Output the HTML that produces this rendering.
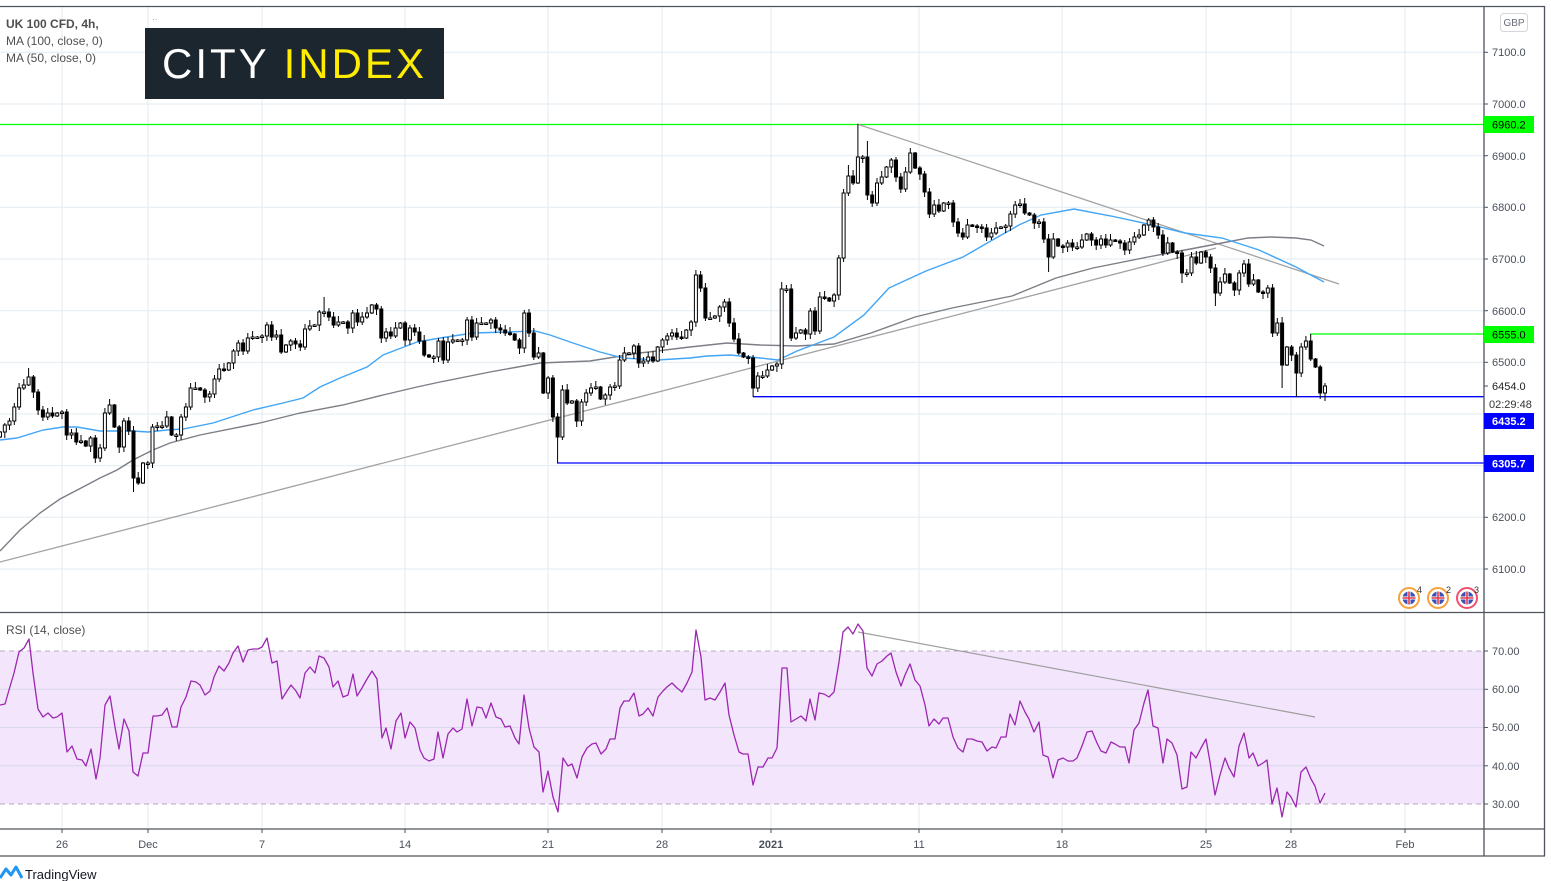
<!DOCTYPE html>
<html>
<head>
<meta charset="utf-8">
<style>
html,body{margin:0;padding:0;background:#fff;}
body{width:1551px;height:881px;overflow:hidden;position:relative;font-family:"Liberation Sans",sans-serif;}
svg{position:absolute;left:0;top:0;}
text{font-family:"Liberation Sans",sans-serif;}
</style>
</head>
<body>
<svg width="1551" height="881" viewBox="0 0 1551 881" xmlns="http://www.w3.org/2000/svg">
<defs>
<clipPath id="pc"><rect x="0" y="7" width="1484" height="605"/></clipPath>
<clipPath id="rc"><rect x="0" y="613" width="1484" height="216"/></clipPath>
</defs>

<!-- vertical grid -->
<g stroke="#e1ecf2" stroke-width="1">
<line x1="62" y1="7" x2="62" y2="829"/>
<line x1="148" y1="7" x2="148" y2="829"/>
<line x1="262" y1="7" x2="262" y2="829"/>
<line x1="405" y1="7" x2="405" y2="829"/>
<line x1="548" y1="7" x2="548" y2="829"/>
<line x1="662" y1="7" x2="662" y2="829"/>
<line x1="771" y1="7" x2="771" y2="829"/>
<line x1="919" y1="7" x2="919" y2="829"/>
<line x1="1062" y1="7" x2="1062" y2="829"/>
<line x1="1206" y1="7" x2="1206" y2="829"/>
<line x1="1291" y1="7" x2="1291" y2="829"/>
<line x1="1405" y1="7" x2="1405" y2="829"/>
</g>
<!-- horizontal price grid -->
<g stroke="#e1ecf2" stroke-width="1">
<line x1="0" y1="52.3" x2="1484" y2="52.3"/>
<line x1="0" y1="104" x2="1484" y2="104"/>
<line x1="0" y1="155.7" x2="1484" y2="155.7"/>
<line x1="0" y1="207.3" x2="1484" y2="207.3"/>
<line x1="0" y1="259" x2="1484" y2="259"/>
<line x1="0" y1="310.7" x2="1484" y2="310.7"/>
<line x1="0" y1="362.3" x2="1484" y2="362.3"/>
<line x1="0" y1="414" x2="1484" y2="414"/>
<line x1="0" y1="465.7" x2="1484" y2="465.7"/>
<line x1="0" y1="517.3" x2="1484" y2="517.3"/>
<line x1="0" y1="569" x2="1484" y2="569"/>
</g>

<!-- RSI band -->
<rect x="0" y="651" width="1484" height="153" fill="#f3e6fc"/>
<g stroke="#d9d6ee" stroke-width="1">
<line x1="0" y1="689.3" x2="1484" y2="689.3"/>
<line x1="0" y1="727.5" x2="1484" y2="727.5"/>
<line x1="0" y1="765.8" x2="1484" y2="765.8"/>
</g>
<g stroke="#b7a9bd" stroke-width="1" stroke-dasharray="5,4">
<line x1="0" y1="651" x2="1484" y2="651"/>
<line x1="0" y1="804" x2="1484" y2="804"/>
</g>

<!-- price pane content -->
<g clip-path="url(#pc)">
<!-- level lines -->
<line x1="0" y1="124.5" x2="1484" y2="124.5" stroke="#00ff00" stroke-width="1.3"/>
<line x1="1310" y1="334" x2="1484" y2="334" stroke="#00ff00" stroke-width="1.3"/>
<line x1="753" y1="396.7" x2="1484" y2="396.7" stroke="#0000ff" stroke-width="1.3"/>
<line x1="557" y1="463" x2="1484" y2="463" stroke="#0000ff" stroke-width="1.3"/>
<!-- trend lines -->
<line x1="0" y1="562" x2="1216" y2="248" stroke="#a3a3a3" stroke-width="1.3"/>
<line x1="857" y1="124" x2="1339" y2="284" stroke="#a3a3a3" stroke-width="1.3"/>
<!-- MA100 -->
<polyline fill="none" stroke="#7d7d86" stroke-width="1.4" points="0,551 20,530 40,513 60,499 83,487 100,478 117,470 133,460 153,450 170,443 200,435 260,423 300,413 343,405 383,395 417,387 440,382 490,372 540,363 590,361 640,353 690,347 727,343 760,345 797,346 834,344 871,333 915,317 952,308 1012,296 1056,278 1093,268 1148,257 1185,250 1222,243 1248,238 1271,237 1296,238 1311,240 1324,246"/>
<!-- MA50 -->
<polyline fill="none" stroke="#42a5f5" stroke-width="1.4" points="0,440 17,438 43,430 63,427 77,427 100,431 133,431 148,432 167,430 183,429 213,423 253,410 283,403 303,398 320,387 340,378 367,367 383,355 417,342 440,338 473,333 507,332 535,331 550,335 573,343 600,352 623,358 657,360 690,358 707,356 730,355 760,358 778,360 797,351 834,337 864,315 889,288 926,271 963,257 989,242 1019,225 1041,215 1074,209 1111,216 1148,224 1185,233 1222,238 1259,250 1296,267 1324,282"/>
<g id="candles" stroke="#000" stroke-width="1"></g>
</g>

<!-- RSI content -->
<g clip-path="url(#rc)">
<line x1="858" y1="632" x2="1315" y2="717" stroke="#9e9e9e" stroke-width="1.2"/>
<polyline fill="none" stroke="#9c27b0" stroke-width="1.3" stroke-linejoin="round" points="0,705 5,704 9,690 14,673 19,652 24,648 29,639 33,673 38,709 43,717 48,713 53,718 57,717 62,713 67,752 72,746 77,759 82,760 86,766 91,749 96,779 100,758 105,705 110,696 115,727 119,749 124,719 129,731 133,772 138,776 143,753 148,753 153,716 157,716 162,715 167,708 172,727 177,727 181,707 186,697 191,681 196,682 200,685 205,695 210,691 214,677 219,666 224,671 229,663 233,653 238,646 243,662 248,650 253,649 258,649 262,647 267,638 272,663 277,661 282,699 287,691 291,685 296,691 300,698 305,673 310,667 315,673 319,656 324,658 329,667 333,687 338,681 343,697 348,695 353,674 357,696 362,688 367,679 372,671 377,679 382,738 386,728 391,749 396,721 401,713 405,738 410,722 415,728 420,750 424,758 429,761 434,759 438,732 443,758 448,734 453,728 457,732 462,729 467,699 472,726 477,707 482,708 486,718 491,703 496,717 501,719 505,727 510,726 515,738 519,744 524,695 529,728 534,747 539,752 543,792 548,771 553,797 558,812 563,758 568,766 572,764 577,778 582,757 587,748 592,744 596,743 601,754 606,749 610,739 615,739 620,708 624,701 629,701 634,693 639,716 643,714 648,708 653,716 658,697 663,691 667,687 672,683 677,688 682,692 687,683 692,672 696,630 701,657 705,700 710,698 715,700 720,692 725,683 729,715 734,735 739,752 743,754 748,754 753,785 758,767 763,767 768,758 772,758 777,748 782,668 787,668 791,722 796,719 801,716 806,721 810,699 815,720 819,693 824,694 829,697 834,692 839,662 843,632 848,627 853,634 858,624 863,631 867,668 872,676 877,664 882,661 887,656 891,653 896,672 901,686 905,675 910,664 915,680 920,686 925,705 929,726 934,719 939,724 943,718 948,718 953,737 958,748 963,752 967,739 972,739 977,741 982,742 987,751 992,747 996,748 1001,737 1006,737 1010,714 1015,725 1020,701 1025,712 1029,719 1034,732 1039,722 1043,755 1048,757 1053,778 1058,760 1063,758 1068,761 1073,761 1077,758 1082,746 1087,732 1092,731 1097,743 1101,751 1106,753 1111,742 1115,744 1120,747 1125,747 1129,763 1134,730 1139,723 1144,703 1148,690 1153,726 1158,728 1163,763 1167,739 1172,743 1177,755 1182,789 1187,787 1191,752 1196,758 1201,748 1206,739 1210,762 1215,795 1220,775 1225,758 1229,768 1234,777 1239,746 1244,733 1249,758 1253,753 1258,766 1263,763 1267,760 1272,804 1277,788 1282,817 1287,792 1291,797 1296,807 1301,772 1306,767 1311,779 1315,786 1320,803 1325,793"/>
</g>

<!-- frame lines -->
<g stroke="#50535e" stroke-width="1.3">
<line x1="0" y1="6.5" x2="1545" y2="6.5"/>
<line x1="0" y1="612.5" x2="1545" y2="612.5"/>
<line x1="0" y1="829" x2="1545" y2="829"/>
<line x1="0" y1="856" x2="1545" y2="856"/>
<line x1="1484" y1="6" x2="1484" y2="856"/>
<line x1="1544.5" y1="6" x2="1544.5" y2="856"/>
</g>

<!-- right axis ticks -->
<g stroke="#50535e" stroke-width="1">
<line x1="1484" y1="52.3" x2="1488" y2="52.3"/>
<line x1="1484" y1="104" x2="1488" y2="104"/>
<line x1="1484" y1="155.7" x2="1488" y2="155.7"/>
<line x1="1484" y1="207.3" x2="1488" y2="207.3"/>
<line x1="1484" y1="259" x2="1488" y2="259"/>
<line x1="1484" y1="310.7" x2="1488" y2="310.7"/>
<line x1="1484" y1="362.3" x2="1488" y2="362.3"/>
<line x1="1484" y1="386" x2="1488" y2="386"/>
<line x1="1484" y1="517.3" x2="1488" y2="517.3"/>
<line x1="1484" y1="569" x2="1488" y2="569"/>
<line x1="1484" y1="651" x2="1488" y2="651"/>
<line x1="1484" y1="689.3" x2="1488" y2="689.3"/>
<line x1="1484" y1="727.5" x2="1488" y2="727.5"/>
<line x1="1484" y1="765.8" x2="1488" y2="765.8"/>
<line x1="1484" y1="804" x2="1488" y2="804"/>
</g>
<!-- bottom axis ticks -->
<g stroke="#50535e" stroke-width="1">
<line x1="62" y1="829" x2="62" y2="833"/>
<line x1="148" y1="829" x2="148" y2="833"/>
<line x1="262" y1="829" x2="262" y2="833"/>
<line x1="405" y1="829" x2="405" y2="833"/>
<line x1="548" y1="829" x2="548" y2="833"/>
<line x1="662" y1="829" x2="662" y2="833"/>
<line x1="771" y1="829" x2="771" y2="833"/>
<line x1="919" y1="829" x2="919" y2="833"/>
<line x1="1062" y1="829" x2="1062" y2="833"/>
<line x1="1206" y1="829" x2="1206" y2="833"/>
<line x1="1291" y1="829" x2="1291" y2="833"/>
<line x1="1405" y1="829" x2="1405" y2="833"/>
</g>

<!-- price labels -->
<g font-size="11" fill="#4a4f5a">
<text x="1492" y="56">7100.0</text>
<text x="1492" y="108">7000.0</text>
<text x="1492" y="160">6900.0</text>
<text x="1492" y="211">6800.0</text>
<text x="1492" y="263">6700.0</text>
<text x="1492" y="315">6600.0</text>
<text x="1492" y="366">6500.0</text>
<text x="1492" y="390" fill="#222">6454.0</text>
<text x="1489" y="408" fill="#333">02:29:48</text>
<text x="1492" y="521">6200.0</text>
<text x="1492" y="573">6100.0</text>
</g>
<rect x="1484" y="116" width="50" height="17" fill="#00ff00"/>
<text x="1492" y="128.5" font-size="11" fill="#000">6960.2</text>
<rect x="1484" y="326" width="50" height="17" fill="#00ff00"/>
<text x="1492" y="338.5" font-size="11" fill="#000">6555.0</text>
<rect x="1484" y="413" width="50" height="16" fill="#0000ff"/>
<text x="1492" y="425" font-size="11" font-weight="bold" fill="#fff">6435.2</text>
<rect x="1484" y="455" width="50" height="17" fill="#0000ff"/>
<text x="1492" y="467.5" font-size="11" font-weight="bold" fill="#fff">6305.7</text>

<!-- GBP -->
<rect x="1500.5" y="13.5" width="27" height="18" rx="3" fill="#fff" stroke="#d4d6dc"/>
<text x="1514" y="26" font-size="10" fill="#6a6d78" text-anchor="middle">GBP</text>

<!-- RSI labels -->
<g font-size="11" fill="#4a4f5a">
<text x="1492" y="655">70.00</text>
<text x="1492" y="693">60.00</text>
<text x="1492" y="731">50.00</text>
<text x="1492" y="770">40.00</text>
<text x="1492" y="808">30.00</text>
</g>

<!-- time labels -->
<g font-size="11" fill="#4a4f5a" text-anchor="middle">
<text x="62" y="848">26</text>
<text x="148" y="848">Dec</text>
<text x="262" y="848">7</text>
<text x="405" y="848">14</text>
<text x="548" y="848">21</text>
<text x="662" y="848">28</text>
<text x="771" y="848" font-weight="bold">2021</text>
<text x="919" y="848">11</text>
<text x="1062" y="848">18</text>
<text x="1206" y="848">25</text>
<text x="1291" y="848">28</text>
<text x="1405" y="848">Feb</text>
</g>

<!-- legend -->
<text x="6" y="28" font-size="12" font-weight="bold" fill="#4f4f4f">UK 100 CFD, 4h,</text>
<text x="6" y="45" font-size="12" fill="#4f4f4f">MA (100, close, 0)</text>
<text x="6" y="62" font-size="12" fill="#4f4f4f">MA (50, close, 0)</text>
<text x="152" y="22" font-size="8" fill="#888">··</text>
<text x="6" y="634" font-size="12" fill="#4f4f4f">RSI (14, close)</text>

<!-- City Index logo -->
<rect x="145" y="28" width="299" height="71" fill="#1c262e"/>
<text x="162" y="78" font-size="42" letter-spacing="3" fill="#ffffff">CITY <tspan fill="#ffec00">INDEX</tspan></text>

<!-- flags -->
<g>
<circle cx="1409" cy="598" r="10" fill="#fff" stroke="#f7a23b" stroke-width="2"/>
<circle cx="1409" cy="598" r="6.5" fill="#3f51b5"/>
<path d="M1402.5 598 H1415.5 M1409 591.5 V604.5" stroke="#fff" stroke-width="3"/>
<path d="M1402.5 598 H1415.5 M1409 591.5 V604.5" stroke="#e53945" stroke-width="1.6"/>
<text x="1417" y="593" font-size="9" fill="#333">4</text>
<circle cx="1438" cy="598" r="10" fill="#fff" stroke="#f7a23b" stroke-width="2"/>
<circle cx="1438" cy="598" r="6.5" fill="#3f51b5"/>
<path d="M1431.5 598 H1444.5 M1438 591.5 V604.5" stroke="#fff" stroke-width="3"/>
<path d="M1431.5 598 H1444.5 M1438 591.5 V604.5" stroke="#e53945" stroke-width="1.6"/>
<text x="1446" y="593" font-size="9" fill="#333">2</text>
<circle cx="1467" cy="598" r="10" fill="#fff" stroke="#f0506a" stroke-width="2"/>
<circle cx="1467" cy="598" r="6.5" fill="#3f51b5"/>
<path d="M1460.5 598 H1473.5 M1467 591.5 V604.5" stroke="#fff" stroke-width="3"/>
<path d="M1460.5 598 H1473.5 M1467 591.5 V604.5" stroke="#e53945" stroke-width="1.6"/>
<text x="1474" y="593" font-size="9" fill="#333">3</text>
</g>

<!-- TradingView -->
<path d="M0 878 L6 869 L11 875 L16 867 L22 878" fill="none" stroke="#2196f3" stroke-width="3" stroke-linejoin="round"/>
<text x="25" y="879" font-size="13" fill="#131722">TradingView</text>
</svg>

<script>
(function(){
var C=[432,425,421,407,388,385,377,392,410,417,413,416,413,412,435,433,442,441,446,438,458,448,413,405,427,447,421,431,478,483,463,463,427,426,426,417,435,435,417,407,388,388,390,397,394,379,369,370,363,351,343,351,338,337,337,336,325,337,335,352,345,341,344,347,329,326,325,312,312,317,325,322,322,328,313,322,317,313,305,309,338,332,336,328,323,340,328,332,341,355,357,357,341,360,342,
340,340,340,320,337,323,323,323,320,328,330,333,334,340,348,313,333,357,353,393,378,417,437,390,403,401,421,402,393,388,387,399,395,387,386,360,353,353,346,363,361,357,361,347,340,336,333,337,338,330,322,275,288,318,318,316,307,302,323,339,353,357,358,388,376,
376,370,366,364,289,289,338,333,330,334,311,331,297,298,301,295,258,193,176,183,157,157,195,203,183,177,167,160,177,189,172,153,168,174,192,214,205,211,203,203,222,233,237,225,226,227,228,237,233,228,227,226,214,205,204,213,215,223,222,239,257,239,246,247,243,247,247,240,234,240,245,239,245,240,241,243,250,242,237,235,225,220,227,235,253,243,252,253,273,273,257,263,252,257,268,293,282,274,283,290,273,264,284,280,292,293,288,333,323,365,347,355,373,347,341,359,367,393,386];
var HI={6:368,68:297,146:270,164:282,178:165,180:124,182:141,191:148,275:334};
var LO={28:492,117:463,158:397,220:272,248:283,255:306,269:388,272:397,277:399,278:401};
var step=1325/(C.length-1);
var s='',prev=437;
for(var i=0;i<C.length;i++){
 var x=(i*step).toFixed(1);
 var o=prev,c=C[i];
 var top=Math.min(o,c),bot=Math.max(o,c);
 var h=top-(1+((i*37)%6));
 var l=bot+(1+((i*53)%6));
 if(HI[i]!==undefined)h=Math.min(HI[i],top);
 if(LO[i]!==undefined)l=Math.max(LO[i],bot);
 s+='<line x1="'+x+'" y1="'+h+'" x2="'+x+'" y2="'+l+'"/>';
 if(bot-top<1.5){bot=top+1.5;}
 s+='<rect x="'+(x-1.5).toFixed(1)+'" y="'+top+'" width="3" height="'+(bot-top)+'" fill="'+(c>o?'#000':'#fff')+'"/>';
 prev=c;
}
document.getElementById('candles').innerHTML=s;
})();
</script>
</body>
</html>
